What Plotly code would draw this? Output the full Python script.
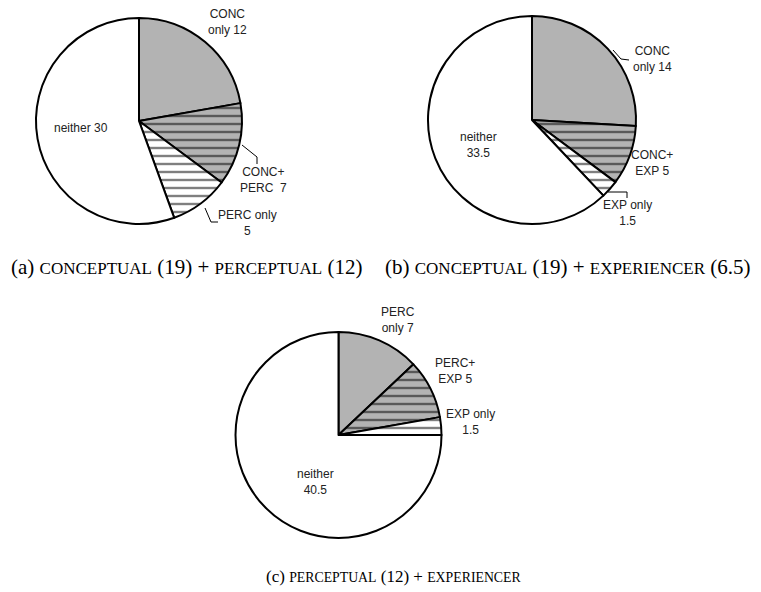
import re
import plotly.graph_objects as go

# ---------------- data ----------------
labels_a = ["CONC only", "CONC+PERC", "PERC only", "neither"]
values_a = [12, 7, 5, 30]
labels_b = ["CONC only", "CONC+EXP", "EXP only", "neither"]
values_b = [14, 5, 1.5, 33.5]
labels_c = ["PERC only", "PERC+EXP", "EXP only", "neither"]
values_c = [7, 5, 1.5, 40.5]

text_a = ["CONC<br>only 12", "CONC+<br>PERC  7", "PERC only<br>5", "neither 30"]
text_b = ["CONC<br>only 14", "CONC+<br>EXP 5", "EXP only<br>1.5", "neither<br>33.5"]
text_c = ["PERC<br>only 7", "PERC+<br>EXP 5", "EXP only<br>1.5", "neither<br>40.5"]

caption_tags = ["(a)", "(b)", "(c)"]
caption_bodies = [
    "conceptual (19) + perceptual (12)",
    "conceptual (19) + experiencer (6.5)",
    "perceptual (12) + experiencer",
]

# ---------------- layout / style ----------------
W, H = 761, 592
GRAY = "#b3b3b3"
fills = [GRAY, GRAY, "white", "white"]
shapes_pat = ["", "-", "-", ""]

def px(x, y):
    return x / W, 1 - y / H

def dom(cx, cy, r):
    return dict(x=[(cx - r) / W, (cx + r) / W], y=[1 - (cy + r) / H, 1 - (cy - r) / H])

pies = [
    (labels_a, values_a, dom(139, 121, 103)),
    (labels_b, values_b, dom(532, 120, 104)),
    (labels_c, values_c, dom(338.5, 435, 103)),
]

fig = go.Figure()
for lab, val, d in pies:
    fig.add_trace(go.Pie(
        labels=lab, values=val, domain=d, sort=False, direction="clockwise",
        rotation=0, textinfo="none", hoverinfo="skip", showlegend=False,
        marker=dict(
            colors=fills,
            line=dict(color="black", width=2),
            pattern=dict(shape=shapes_pat, fgcolor="black", bgcolor=fills,
                         size=8, solidity=0.3, fillmode="overlay"),
        ),
    ))

# label positions (pixels)
label_pos = [
    (text_a, [(227, 22), (263, 180), (247, 223), (81, 128)]),
    (text_b, [(652, 59), (652, 163), (627, 213), (478, 145)]),
    (text_c, [(398, 320), (455, 371), (470, 422), (315, 482)]),
]
annotations = []
for texts, poss in label_pos:
    for t, (x, y) in zip(texts, poss):
        xx, yy = px(x, y)
        annotations.append(dict(
            x=xx, y=yy, xref="paper", yref="paper", text=t, showarrow=False,
            xanchor="center", yanchor="middle", align="center",
            font=dict(family="Liberation Sans, Arial", size=12, color="#222"),
        ))

def smallcaps(body, sc_size):
    return re.sub(r"[a-z]+",
                  lambda m: "<span style='font-size:%.1fpx'>%s</span>" % (sc_size, m.group(0).upper()),
                  body)

cap_style = [(21, 17, 187, 267), (21, 17, 567, 267), (17, 13.8, 393, 576)]
for tag, body, (fs, scs, x, y) in zip(caption_tags, caption_bodies, cap_style):
    xx, yy = px(x, y)
    annotations.append(dict(
        x=xx, y=yy, xref="paper", yref="paper",
        text=tag + " " + smallcaps(body, scs), showarrow=False,
        xanchor="center", yanchor="middle",
        font=dict(family="Liberation Serif, Times New Roman", size=fs, color="black"),
    ))

# leader lines (pixels)
leaders = [
    [(242, 145), (257, 157), (257, 164)],
    [(205, 208), (211, 222), (218, 222)],
    [(613, 50), (621, 59), (629, 60)],
    [(608, 192), (627, 192), (627, 198)],
]
shapes = []
for pts in leaders:
    p = [px(x, y) for x, y in pts]
    path = "M {} {} ".format(*p[0]) + " ".join("L {} {}".format(*q) for q in p[1:])
    shapes.append(dict(type="path", path=path, xref="paper", yref="paper",
                       line=dict(color="black", width=1)))

fig.update_layout(
    width=W, height=H, margin=dict(l=0, r=0, t=0, b=0),
    paper_bgcolor="white", plot_bgcolor="white",
    annotations=annotations, shapes=shapes,
)
fig.write_html("out.html")
